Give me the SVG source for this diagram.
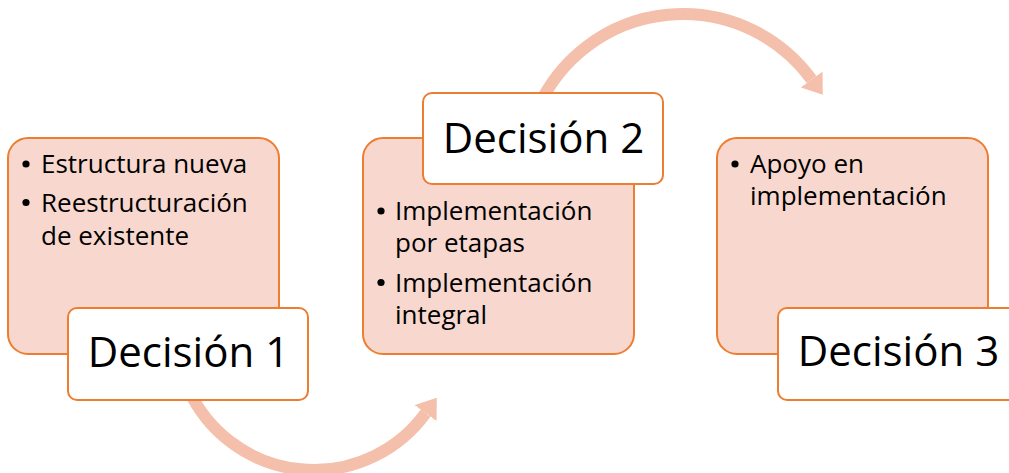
<svg xmlns="http://www.w3.org/2000/svg" width="1009" height="473" viewBox="0 0 1009 473">
<style>
  .detail { fill: #F8D8CE; stroke: #ED7D31; stroke-width: 2; }
  .title { fill: #FFFFFF; stroke: #ED7D31; stroke-width: 2; }
  .arc { fill: none; stroke: #F4BFAB; stroke-width: 12; }
  .bullet { fill: #000000; }
  .txt { font-family: "Open Sans", "Liberation Sans", sans-serif; font-size: 26px; fill: #000000; }
  .ttl { font-family: "Open Sans", "Liberation Sans", sans-serif; font-size: 42px; fill: #000000; text-anchor: middle; }
</style>
<defs>
  <marker id="head" markerUnits="userSpaceOnUse" markerWidth="19" markerHeight="27" viewBox="0 0 19 27" refX="0" refY="13.5" orient="auto">
    <path d="M0,0 L19,13.5 L0,27 Z" fill="#F4BFAB"/>
  </marker>
</defs>
<rect width="1009" height="473" fill="#FFFFFF"/>
<g id="connectors">
  <path class="arc" d="M 188.9,390.3 A 138 138 0 0 0 425.6,413.1" marker-end="url(#head)"/>
  <path class="arc" d="M 538.9,105.8 A 159 159 0 0 1 811.6,79.5" marker-end="url(#head)"/>
</g>
<g id="node1">
  <rect class="detail" x="8" y="138" width="271" height="216" rx="20"/>
  <circle class="bullet" cx="26" cy="164" r="3.6"/>
  <circle class="bullet" cx="26" cy="202.5" r="3.6"/>
  <text class="txt" x="41" y="173">Estructura nueva</text>
  <text class="txt" x="41" y="211.5">Reestructuración</text>
  <text class="txt" x="41" y="244.5">de existente</text>
  <rect class="title" x="68" y="308" width="240" height="92" rx="9"/>
  <text class="ttl" x="188.5" y="367">Decisión 1</text>
</g>
<g id="node2">
  <rect class="detail" x="363" y="138" width="271" height="216" rx="20"/>
  <circle class="bullet" cx="381" cy="211" r="3.6"/>
  <circle class="bullet" cx="381" cy="282.5" r="3.6"/>
  <text class="txt" x="395" y="220">Implementación</text>
  <text class="txt" x="395" y="252">por etapas</text>
  <text class="txt" x="395" y="291.5">Implementación</text>
  <text class="txt" x="395" y="323.5">integral</text>
  <rect class="title" x="423" y="93" width="240" height="91" rx="9"/>
  <text class="ttl" x="543.5" y="153">Decisión 2</text>
</g>
<g id="node3">
  <rect class="detail" x="717" y="138" width="271" height="216" rx="20"/>
  <circle class="bullet" cx="735" cy="164" r="3.6"/>
  <text class="txt" x="750" y="173">Apoyo en</text>
  <text class="txt" x="750" y="205">implementación</text>
  <rect class="title" x="778" y="308" width="240" height="92" rx="9"/>
  <text class="ttl" x="898.5" y="366">Decisión 3</text>
</g>
</svg>
